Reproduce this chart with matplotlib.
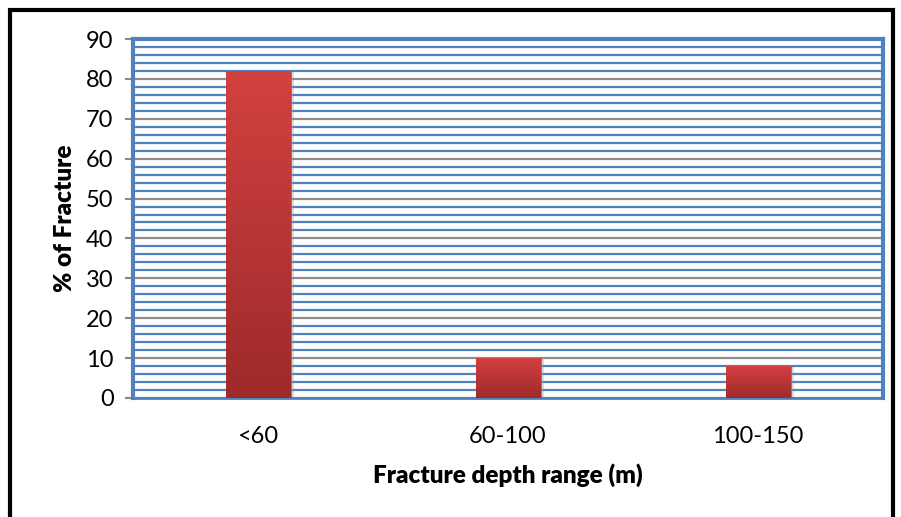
import matplotlib
matplotlib.use("Agg")
import matplotlib.pyplot as plt
import numpy as np
from matplotlib.patches import Rectangle
from matplotlib.colors import LinearSegmentedColormap

categories = ["<60", "60-100", "100-150"]
values = [82, 10, 8]
y_ticks = [0, 10, 20, 30, 40, 50, 60, 70, 80, 90]

plt.rcParams['font.family'] = ['Lato', 'DejaVu Sans']

fig = plt.figure(figsize=(9.01, 5.17), dpi=100)
ax = fig.add_axes([133/901, 1-398/517, (883-133)/901, (398-39)/517])

x = np.arange(len(categories))
bars = ax.bar(x, values, width=0.26, color="#c0393a", zorder=3, edgecolor="#c85a5a", linewidth=0.6)

cmap = LinearSegmentedColormap.from_list("g", ["#9e2a2a", "#d24140"])
for b in bars:
    bx, by = b.get_x(), b.get_y()
    w, h = b.get_width(), b.get_height()
    ax.add_patch(Rectangle((bx + 0.012, by), w, h - 0.3, facecolor="#999999", alpha=0.35,
                           zorder=2.5, edgecolor="none"))
    grad = np.linspace(0, 1, 256).reshape(-1, 1)
    im = ax.imshow(grad, extent=(bx, bx + w, by, by + h), origin="lower", cmap=cmap,
                   aspect="auto", zorder=3.5)
    im.set_clip_path(b)

ax.set_xlim(-0.5, len(categories) - 0.5)
ax.set_ylim(0, 90)
ax.set_yticks(y_ticks)
ax.set_yticks(np.arange(0, 91, 2), minor=True)
ax.set_xticks(x)
ax.set_xticklabels(categories, fontsize=17)
ax.tick_params(axis='y', which='major', labelsize=17, length=6, color="#888888", width=1.5, pad=8)
ax.tick_params(axis='y', which='minor', length=0)
ax.tick_params(axis='x', length=0, pad=20)

ax.grid(axis='y', which='minor', color="#4f81bd", linewidth=1.6, zorder=1)
ax.grid(axis='y', which='major', color="#8c8c8c", linewidth=1.6, zorder=1.2)
ax.set_axisbelow(True)

for s in ['left', 'top', 'right']:
    ax.spines[s].set_color("#4f81bd")
    ax.spines[s].set_linewidth(3)
ax.spines['bottom'].set_color("#4f81bd")
ax.spines['bottom'].set_linewidth(2)

ax.set_ylabel("% of Fracture", fontsize=17.5, fontweight='heavy', labelpad=7)
ax.set_xlabel("Fracture depth range (m)", fontsize=17.5, fontweight='heavy', labelpad=12)

fig.patches.append(Rectangle((10/901, -0.05), (893-10)/901, 1.05 - 10/517, transform=fig.transFigure,
                             fill=False, edgecolor="black", linewidth=3))

fig.savefig("out.png", dpi=100)
